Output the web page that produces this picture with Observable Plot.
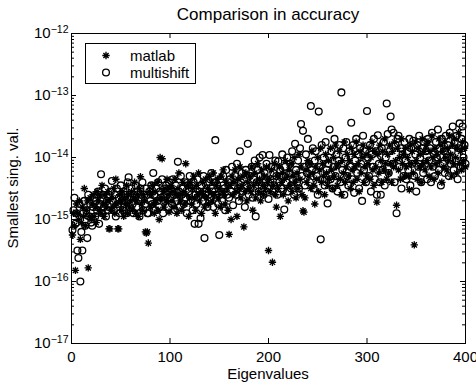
<!DOCTYPE html>
<html><head><meta charset="utf-8">
<script src="https://cdn.jsdelivr.net/npm/d3@7"></script>
<script src="https://cdn.jsdelivr.net/npm/@observablehq/plot@0.6"></script>
<style>
body{margin:0;background:#fff;font-family:"Liberation Sans",Arial,sans-serif;color:#000;}
#wrap{position:relative;width:476px;height:388px;overflow:hidden;}
#title{height:26px;}
.lbl{position:absolute;white-space:nowrap;font-size:15px;line-height:1;}
</style></head><body>
<div id="wrap">
<div id="title"></div>
<div id="chart"></div>
</div>
<script>
const title = "Comparison in accuracy";
const xLabel = "Eigenvalues";
const yLabel = "Smallest sing. val.";
const seriesNames = ["matlab", "multishift"];
const xTicks = [0, 100, 200, 300, 400];
const yMajor = [1e-17, 1e-16, 1e-15, 1e-14, 1e-13, 1e-12];
const yMinorMult = [2, 3, 4, 5, 6, 7, 8, 9];

// log10 of smallest singular value, eigenvalue index 1..400
const matlabExp = [
-15.25,-14.9,-15.1,-15.82,-14.75,-14.9,-15.0,-14.7,-15.32,-15.05,-14.8,-14.95,-14.5,-15.1,-14.85,-14.7,-15.78,-14.95,-14.65,-15.0,
-14.75,-14.6,-14.95,-14.8,-15.05,-14.55,-14.7,-14.85,-14.62,-14.9,-14.45,-14.75,-14.95,-14.6,-14.8,-14.7,-14.55,-15.15,-15.15,-14.85,
-14.65,-14.8,-14.5,-14.9,-14.35,-14.75,-15.15,-15.15,-14.6,-14.7,-14.85,-14.55,-14.95,-14.65,-14.75,-14.45,-14.9,-14.6,-14.8,-14.7,
-14.55,-14.85,-14.65,-14.4,-14.9,-14.7,-14.6,-14.95,-14.5,-14.31,-14.75,-14.85,-14.6,-14.7,-15.2,-15.22,-15.2,-15.38,-14.55,-14.8,
-14.6,-14.45,-14.75,-14.9,-14.55,-14.7,-14.4,-14.85,-15.0,-14.0,-14.65,-14.02,-14.55,-14.8,-14.5,-14.7,-14.35,-14.6,-14.88,-14.5,
-14.45,-14.7,-14.55,-14.8,-14.35,-14.6,-14.9,-14.5,-14.25,-14.7,-14.6,-14.85,-14.4,-14.55,-14.75,-14.1,-14.6,-14.45,-14.95,-14.65,
-14.4,-14.75,-14.5,-14.3,-14.65,-14.85,-14.45,-14.6,-14.25,-14.7,-14.55,-14.9,-14.4,-14.6,-14.8,-14.35,-14.65,-14.5,-14.75,-14.3,
-14.55,-14.4,-14.7,-14.25,-14.6,-14.9,-14.45,-14.35,-14.65,-14.5,-14.8,-14.3,-14.55,-14.2,-14.6,-14.75,-14.4,-14.5,-14.85,-15.24,
-14.45,-15.0,-14.3,-14.6,-14.4,-14.2,-14.55,-14.95,-14.35,-14.5,-14.15,-14.65,-14.45,-14.3,-15.12,-14.55,-14.25,-14.7,-14.4,-14.5,
-14.3,-14.55,-14.15,-14.85,-14.45,-14.25,-14.65,-14.4,-14.1,-14.55,-14.35,-14.7,-14.2,-14.45,-14.6,-14.3,-14.5,-14.15,-14.4,-15.5,
-14.35,-14.55,-14.2,-15.69,-14.45,-14.1,-14.6,-14.8,-14.3,-14.5,-14.15,-14.95,-14.4,-14.25,-14.6,-14.35,-14.05,-14.5,-14.3,-14.7,
-14.2,-14.45,-14.1,-14.55,-14.3,-14.0,-14.4,-14.65,-14.25,-14.5,-13.95,-14.35,-14.15,-14.6,-14.86,-14.88,-14.65,-14.2,-14.4,-14.05,
-14.3,-14.1,-14.5,-13.9,-14.25,-14.45,-14.75,-14.15,-14.35,-14.0,-14.55,-14.2,-13.85,-14.4,-14.1,-14.3,-14.6,-13.95,-14.25,-14.45,
-14.05,-14.35,-13.85,-14.2,-14.5,-14.0,-14.3,-13.8,-14.15,-14.45,-14.1,-13.9,-14.35,-14.6,-14.05,-14.25,-13.75,-14.4,-14.15,-13.95,
-14.3,-14.05,-14.5,-13.85,-14.2,-14.4,-13.95,-14.15,-13.75,-14.35,-14.1,-14.55,-13.9,-14.25,-14.0,-13.8,-14.4,-14.15,-13.95,-14.3,
-14.1,-13.85,-14.35,-14.0,-13.75,-14.2,-14.45,-13.9,-14.15,-14.72,-13.95,-14.25,-13.8,-14.05,-14.4,-13.9,-14.2,-13.7,-14.1,-14.35,
-13.95,-14.25,-13.8,-14.1,-14.4,-13.9,-14.15,-13.75,-14.05,-14.77,-13.85,-14.2,-14.0,-14.35,-13.7,-14.1,-13.95,-14.3,-13.85,-14.15,
-14.0,-14.3,-14.52,-13.8,-14.1,-13.9,-14.25,-15.41,-13.75,-14.05,-14.35,-13.85,-14.15,-13.95,-14.4,-13.7,-14.1,-13.9,-14.2,-13.8,
-14.05,-13.75,-14.3,-13.9,-14.15,-13.65,-14.0,-14.35,-13.85,-14.1,-13.95,-14.25,-13.7,-14.05,-13.8,-14.4,-13.9,-14.15,-13.75,-14.0,
-14.2,-13.85,-14.05,-13.65,-13.95,-14.3,-13.8,-14.1,-13.7,-14.0,-14.25,-13.85,-13.6,-14.1,-13.9,-14.2,-13.75,-14.05,-13.85,-14.15
];
const multishiftExp = [
-15.17,-14.85,-14.65,-15.07,-14.9,-15.5,-15.62,-14.75,-16.0,-15.2,-15.5,-14.9,-14.7,-15.1,-14.85,-15.3,-14.6,-14.95,-14.75,-15.05,
-15.1,-14.8,-14.65,-14.95,-14.7,-14.85,-14.55,-15.07,-14.75,-14.27,-14.9,-14.6,-14.8,-14.5,-14.95,-14.7,-14.85,-14.6,-14.75,-14.55,
-14.38,-14.7,-14.85,-14.6,-14.95,-14.5,-14.75,-14.65,-14.9,-14.45,-14.7,-14.85,-14.55,-14.75,-14.6,-14.9,-14.4,-14.32,-14.8,-14.65,
-14.5,-14.75,-14.9,-14.6,-14.45,-14.8,-14.55,-14.7,-14.95,-14.5,-14.65,-14.4,-14.85,-14.6,-14.75,-14.5,-14.9,-14.9,-14.55,-14.7,
-14.45,-14.75,-14.25,-14.6,-14.85,-14.5,-14.7,-14.4,-14.8,-14.55,-14.65,-14.35,-14.9,-14.5,-14.7,-14.45,-14.6,-14.8,-14.4,-14.65,
-14.5,-14.75,-14.35,-14.6,-14.85,-14.45,-14.7,-14.07,-14.55,-14.8,-14.3,-14.6,-14.5,-14.75,-14.4,-14.65,-14.9,-14.45,-14.55,-14.3,
-14.7,-14.5,-14.85,-14.4,-15.07,-14.6,-14.75,-14.35,-15.07,-14.55,-14.98,-14.45,-14.7,-14.3,-15.3,-14.6,-14.5,-14.8,-14.6,-14.4,
-14.65,-14.25,-14.55,-14.8,-14.4,-13.72,-14.6,-14.45,-14.75,-15.25,-14.35,-14.55,-14.7,-14.3,-14.5,-14.85,-14.2,-14.6,-14.4,-14.65,
-14.35,-14.55,-14.15,-14.77,-14.45,-14.3,-14.6,-14.1,-14.5,-14.7,-13.9,-14.4,-14.25,-14.55,-14.35,-14.8,-14.2,-14.45,-13.78,-14.6,
-14.3,-14.5,-14.15,-14.65,-14.35,-14.05,-14.95,-14.4,-14.2,-14.55,-14.0,-14.3,-14.45,-13.96,-14.6,-14.25,-14.4,-14.1,-14.5,-14.67,
-13.96,-14.35,-14.15,-14.55,-14.25,-14.45,-14.05,-14.3,-14.6,-14.06,-14.4,-14.2,-14.5,-13.95,-14.3,-14.84,-14.15,-14.4,-14.0,-14.55,
-14.25,-14.1,-14.45,-13.9,-14.35,-14.6,-13.78,-14.2,-14.4,-14.05,-14.5,-13.85,-13.46,-14.3,-13.57,-14.15,-14.45,-13.95,-14.25,-13.7,
-14.1,-14.4,-13.17,-14.2,-13.85,-14.5,-14.05,-13.9,-14.3,-14.6,-13.26,-14.15,-15.32,-13.8,-14.35,-14.0,-14.45,-13.75,-14.2,-14.74,
-14.1,-13.55,-14.35,-13.9,-14.5,-14.15,-13.7,-14.3,-13.95,-14.55,-14.05,-13.8,-14.4,-12.95,-14.2,-13.85,-14.6,-14.0,-13.75,-14.3,
-14.45,-13.9,-14.15,-13.44,-14.35,-13.8,-14.57,-14.05,-13.7,-14.25,-13.95,-14.5,-13.85,-14.1,-14.7,-13.65,-14.2,-13.9,-14.4,-13.25,
-14.0,-14.3,-13.8,-14.55,-13.95,-14.15,-13.7,-14.35,-13.9,-14.6,-13.64,-14.1,-14.4,-14.6,-13.85,-14.2,-13.75,-14.45,-14.0,-13.13,
-13.62,-14.25,-13.9,-13.34,-13.55,-14.1,-13.6,-14.4,-13.8,-14.9,-13.7,-13.65,-14.15,-13.85,-14.5,-13.95,-14.3,-13.75,-14.05,-14.35,
-13.9,-14.2,-13.7,-14.45,-13.85,-14.1,-13.73,-14.3,-13.95,-14.55,-13.8,-14.15,-13.65,-14.0,-14.4,-13.85,-14.25,-13.75,-14.1,-13.9,
-14.35,-13.7,-14.05,-13.85,-14.4,-13.6,-14.15,-13.95,-14.3,-13.75,-14.0,-13.55,-14.2,-13.85,-14.45,-13.7,-14.1,-13.9,-14.25,-13.65,
-14.0,-13.8,-14.3,-13.6,-14.1,-13.9,-13.5,-14.2,-13.75,-14.05,-13.65,-14.35,-13.85,-13.45,-14.15,-13.7,-13.5,-14.0,-13.8,-14.1
];

const matlab = matlabExp.map((e, i) => ({x: i + 1, y: Math.pow(10, e)}));
const multishift = multishiftExp.map((e, i) => ({x: i + 1, y: Math.pow(10, e)}));
const yMinor = yMajor.slice(0, -1).flatMap(d => yMinorMult.map(k => k * d));

// layout
const W = 476, H = 362, mL = 71, mR = 11, mT = 7, mB = 45;
const fw = W - mL - mR, fh = H - mT - mB;
const xPerPx = 400 / fw, decPerPx = 5 / fh;
const majLen = 5, minLen = 3;
const xMin = 0, xMax = 400, yMin = 1e-17, yMax = 1e-12;

const asterisk = {
  draw(ctx, size) {
    const r = Math.sqrt(size / Math.PI), d = r * Math.SQRT1_2;
    ctx.moveTo(-r, 0); ctx.lineTo(r, 0);
    ctx.moveTo(0, -r); ctx.lineTo(0, r);
    ctx.moveTo(-d, -d); ctx.lineTo(d, d);
    ctx.moveTo(-d, d); ctx.lineTo(d, -d);
  }
};

const up = (v, px) => v * Math.pow(10, px * decPerPx);
const down = (v, px) => v / Math.pow(10, px * decPerPx);

const chart = Plot.plot({
  width: W, height: H,
  marginLeft: mL, marginRight: mR, marginTop: mT, marginBottom: mB,
  style: {fontFamily: "'Liberation Sans', Arial, sans-serif", fontSize: "15px", background: "white", color: "black", overflow: "visible"},
  x: {domain: [xMin, xMax]},
  y: {type: "log", domain: [yMin, yMax]},
  marks: [
    Plot.dot(matlab, {x: "x", y: "y", symbol: asterisk, r: 3.7, stroke: "black", strokeWidth: 1.35, fill: "none"}),
    Plot.dot(multishift, {x: "x", y: "y", symbol: "circle", r: 3.4, stroke: "black", strokeWidth: 1.3, fill: "none"}),
    // inward ticks (MATLAB style)
    Plot.ruleX(xTicks, {x: d => d, y1: yMin, y2: up(yMin, majLen), stroke: "black"}),
    Plot.ruleX(xTicks, {x: d => d, y1: yMax, y2: down(yMax, majLen), stroke: "black"}),
    Plot.ruleY(yMajor, {y: d => d, x1: xMin, x2: xMin + majLen * xPerPx, stroke: "black"}),
    Plot.ruleY(yMajor, {y: d => d, x1: xMax - majLen * xPerPx, x2: xMax, stroke: "black"}),
    Plot.ruleY(yMinor, {y: d => d, x1: xMin, x2: xMin + minLen * xPerPx, stroke: "black"}),
    Plot.ruleY(yMinor, {y: d => d, x1: xMax - minLen * xPerPx, x2: xMax, stroke: "black"}),
    Plot.frame({stroke: "black"}),
    Plot.axisX({ticks: xTicks, tickSize: 0, tickPadding: 8, label: null, fontSize: 15}),
    Plot.axisY({ticks: yMajor, tickSize: 0, tickPadding: 3, label: null, fontSize: 15,
      tickFormat: d => "10^" + Math.round(Math.log10(d))})
  ]
});

// superscript exponents for the log tick labels
chart.querySelectorAll("text").forEach(t => {
  const s = t.textContent;
  if (s.indexOf("^") < 0) return;
  const e = s.split("^")[1].replace("-", "\u2212");
  t.textContent = "10";
  const ts = document.createElementNS("http://www.w3.org/2000/svg", "tspan");
  ts.setAttribute("dy", "-0.55em");
  ts.setAttribute("font-size", "10.5px");
  ts.textContent = e;
  t.appendChild(ts);
});

const wrap = document.getElementById("wrap");
document.getElementById("chart").appendChild(chart);

function addLabel(text, x, y, size, rot) {
  const d = document.createElement("div");
  d.className = "lbl";
  d.textContent = text;
  d.style.left = x + "px";
  d.style.top = y + "px";
  d.style.fontSize = size + "px";
  d.style.transform = "translate(-50%,-50%)" + (rot ? " rotate(-90deg)" : "");
  wrap.appendChild(d);
}
addLabel(title, 268, 14, 17, false);
addLabel(xLabel, 268, 373, 15, false);
addLabel(yLabel, 12, 188, 15, true);

// legend
const NS = "http://www.w3.org/2000/svg";
const lg = document.createElementNS(NS, "svg");
lg.setAttribute("width", 111); lg.setAttribute("height", 41);
lg.style.position = "absolute"; lg.style.left = "85px"; lg.style.top = "43px";
lg.innerHTML =
  '<rect x="0.5" y="0.5" width="110" height="40" fill="white" stroke="black"/>' +
  '<path d="M17.3,12.5H24.7M21,8.8V16.2M18.4,9.9L23.6,15.1M18.4,15.1L23.6,9.9" stroke="black" stroke-width="1.35" fill="none"/>' +
  '<circle cx="21" cy="29.5" r="3.4" fill="none" stroke="black" stroke-width="1.3"/>' +
  '<text x="45" y="12.5" dy="0.35em" font-size="15" font-family="Liberation Sans, Arial, sans-serif">' + seriesNames[0] + '</text>' +
  '<text x="45" y="29.5" dy="0.35em" font-size="15" font-family="Liberation Sans, Arial, sans-serif">' + seriesNames[1] + '</text>';
wrap.appendChild(lg);
</script>
</body></html>
